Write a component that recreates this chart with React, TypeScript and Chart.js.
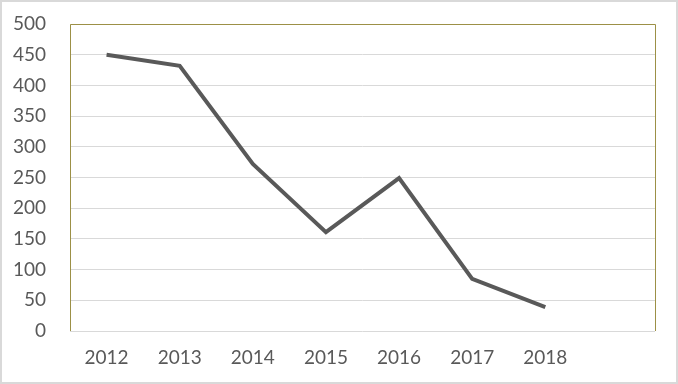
import React, { useEffect, useRef } from "react";
import { Chart, registerables } from "chart.js";

Chart.register(...registerables);

const categories = ["2012", "2013", "2014", "2015", "2016", "2017", "2018", ""];
const values = [450, 432, 272, 161, 249, 85, 39, null];
const yMin = 0;
const yMax = 500;
const yStep = 50;

const frame = {
  id: "frame",
  beforeDraw(chart: any) {
    const { ctx, width, height } = chart;
    ctx.save();
    ctx.fillStyle = "#ffffff";
    ctx.fillRect(0, 0, width, height);
    ctx.strokeStyle = "#d9d9d9";
    ctx.lineWidth = 2;
    ctx.strokeRect(1, 1, width - 2, height - 2);
    ctx.restore();
  },
  afterDatasetsDraw(chart: any) {
    const { ctx, chartArea } = chart;
    const { left, right, top, bottom } = chartArea;
    ctx.save();
    ctx.strokeStyle = "#9c9046";
    ctx.lineWidth = 1;
    ctx.beginPath();
    ctx.moveTo(Math.round(left) + 0.5, Math.round(bottom));
    ctx.lineTo(Math.round(left) + 0.5, Math.round(top) + 0.5);
    ctx.lineTo(Math.round(right) + 0.5, Math.round(top) + 0.5);
    ctx.lineTo(Math.round(right) + 0.5, Math.round(bottom));
    ctx.stroke();
    ctx.restore();
  },
};

export default function App() {
  const ref = useRef<HTMLCanvasElement>(null);
  useEffect(() => {
    const chart = new Chart(ref.current!, {
      type: "line",
      data: {
        labels: categories,
        datasets: [
          {
            data: values,
            borderColor: "#595959",
            borderWidth: 4,
            pointRadius: 0,
            tension: 0,
            fill: false,
          },
        ],
      },
      options: {
        responsive: false,
        animation: false,
        layout: { padding: { top: 24, right: 23, left: 0, bottom: 0 } },
        plugins: { legend: { display: false }, tooltip: { enabled: false } },
        scales: {
          x: {
            offset: true,
            grid: { display: false, drawTicks: false },
            border: { display: false },
            ticks: {
              color: "#595959",
              font: { family: "Lato", size: 19 },
              padding: 15,
              maxRotation: 0,
              autoSkip: false,
            },
            afterFit(scale: any) {
              scale.height = 53;
            },
          },
          y: {
            min: yMin,
            max: yMax,
            grid: { color: "#d9d9d9", drawTicks: false, lineWidth: 1 },
            border: { display: false },
            ticks: {
              stepSize: yStep,
              color: "#595959",
              font: { family: "Lato", size: 19 },
              padding: 24,
            },
            afterFit(scale: any) {
              scale.width = 70;
              scale.paddingTop = 0;
            },
          },
        },
      },
      plugins: [frame],
    });
    return () => chart.destroy();
  }, []);
  return (
    <div style={{ position: "fixed", left: 0, top: 0, width: 678, height: 384 }}>
      <canvas ref={ref} width={678} height={384} />
    </div>
  );
}
